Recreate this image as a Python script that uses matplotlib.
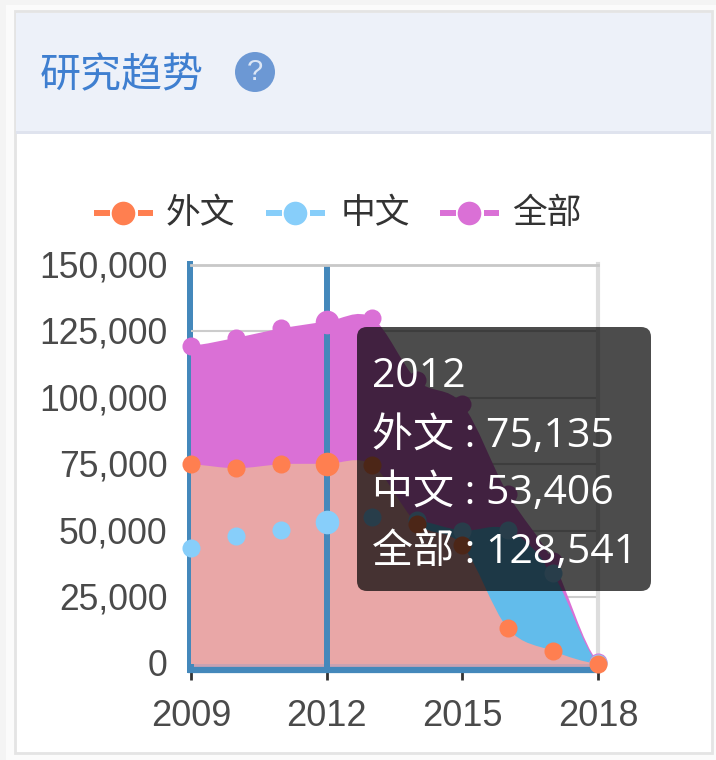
import matplotlib
matplotlib.use('Agg')
import matplotlib.pyplot as plt
from matplotlib.patches import FancyBboxPatch, PathPatch, Rectangle, Circle
from matplotlib.path import Path
from matplotlib.transforms import ScaledTranslation

plt.rcParams['font.family'] = ['Liberation Sans', 'Noto Sans CJK SC', 'DejaVu Sans']

years = [2009, 2010, 2011, 2012, 2013, 2014, 2015, 2016, 2017, 2018]
foreign = [75000, 73500, 75000, 75135, 74800, 52700, 44500, 13500, 4900, 0]
chinese = [43500, 48000, 50500, 53406, 55300, 54000, 50100, 50500, 34000, 300]
total = [119500, 122500, 126000, 128541, 130000, 106500, 97500, 64000, 38500, 800]
names = ['外文', '中文', '全部']
colors = ['#ff7f50', '#87cefa', '#da70d6']
y_ticks = [0, 25000, 50000, 75000, 100000, 125000, 150000]
x_ticks = [2009, 2012, 2015, 2018]
hover_year = 2012
W, H = 716, 760


def smooth_area(xs, ys):
    # кривая Безье через точки, снизу замыкаем на ноль
    verts = [(xs[0], 0), (xs[0], ys[0])]
    codes = [Path.MOVETO, Path.LINETO]
    n = len(xs)
    for i in range(n - 1):
        prev_y = ys[max(i - 1, 0)]
        next_y = ys[min(i + 2, n - 1)]
        dx = (xs[i + 1] - xs[i]) / 3
        c1 = ys[i] + (ys[i + 1] - prev_y) / 6
        c2 = ys[i + 1] - (next_y - ys[i]) / 6
        verts += [(xs[i] + dx, c1), (xs[i + 1] - dx, c2), (xs[i + 1], ys[i + 1])]
        codes += [Path.CURVE4] * 3
    verts += [(xs[-1], 0), (xs[0], 0)]
    codes += [Path.LINETO, Path.LINETO]
    return Path(verts, codes)


fig = plt.figure(figsize=(W / 100, H / 100), dpi=100, facecolor='#ffffff')

# фон карточки в пикселях
bg = fig.add_axes([0, 0, 1, 1], zorder=0)
bg.set_xlim(0, W)
bg.set_ylim(H, 0)
bg.axis('off')
bg.add_patch(Rectangle((0, 0), W, H, fc='#f4f4f4', ec='none'))
bg.add_patch(Rectangle((6, 5), W - 6, H - 5, fc='#fbfbfb', ec='none'))
bg.add_patch(Rectangle((15, 11), 697, 742, fc='#ffffff', ec='#e4e4e4', lw=2))
bg.add_patch(Rectangle((16, 13), 695, 118, fc='#edf1f9', ec='none'))
bg.add_patch(Rectangle((16, 131), 695, 3, fc='#dfe3ee', ec='none'))
bg.text(40, 76, '研究趋势', fontsize=29.5, color='#3f7fd0', va='center', ha='left',
        family=['Noto Sans CJK SC', 'DejaVu Sans'])
bg.add_patch(Circle((255, 72), 20, fc='#6c98d4', ec='none'))
bg.text(255, 72, '?', fontsize=21, color='#dce6f5', va='center', ha='center')
# левая ось идёт чуть выше графика и до нижней оси
bg.add_patch(Rectangle((187, 261), 6, 412, fc='#4488bb', ec='none'))
# полоска между нулём и нижней осью
bg.add_patch(Rectangle((193, 663), 405, 5, fc='#c9a2b2', ec='none'))
bg.add_patch(Rectangle((324, 660), 6, 10, fc='#4488bb', ec='none'))

# легенда
for cx, tx, name, c in zip([122.5, 295, 468.5], [166, 341, 512], names, colors):
    bg.plot([cx - 29, cx - 13], [213, 213], color=c, lw=4.3, solid_capstyle='butt')
    bg.plot([cx + 15, cx + 30], [213, 213], color=c, lw=4.3, solid_capstyle='butt')
    bg.plot([cx], [213], 'o', color=c, ms=17, mew=0)
    bg.text(tx, 213, name, fontsize=25, color='#333333', va='center', ha='left',
            family=['Noto Sans CJK SC', 'DejaVu Sans'])

# основной график
ax = fig.add_axes([191 / W, 1 - 664 / H, 407 / W, 399.5 / H], zorder=1)
ax.patch.set_alpha(0)
ax.set_xlim(2009, 2018)
ax.set_ylim(0, 150000)
ax.spines['top'].set_color('#c8c8c8')
ax.spines['top'].set_linewidth(2)
ax.spines['right'].set_color('#dddddd')
ax.spines['right'].set_linewidth(3)
ax.spines['left'].set_visible(False)
ax.spines['bottom'].set_color('#4488bb')
ax.spines['bottom'].set_linewidth(4.5)
ax.spines['bottom'].set_position(('outward', 4.3))
ax.set_yticks(y_ticks)
ax.set_yticklabels([f'{v:,}' for v in y_ticks], fontsize=25.6, color='#4a4a4a')
ax.set_xticks(x_ticks)
ax.set_xticklabels([str(v) for v in x_ticks], fontsize=26, color='#4a4a4a')
ax.tick_params(axis='y', length=0, pad=17)
ax.tick_params(axis='x', length=7, width=2, color='#333333', pad=14)
ax.grid(axis='y', color='#cccccc', lw=1.5, zorder=1)
ax.set_axisbelow(True)
up = ScaledTranslation(0, 1 / 100, fig.dpi_scale_trans)
for lab in ax.get_yticklabels():
    lab.set_transform(lab.get_transform() + up)

ax.axvline(hover_year, color='#4488bb', lw=4.3, zorder=2)

area_colors = ['#e9a7a7', '#62bceb', '#da70d6']
for vals, c, z in zip([total, chinese, foreign], [area_colors[2], area_colors[1], area_colors[0]], [3, 4, 5]):
    ax.add_patch(PathPatch(smooth_area(years, vals), fc=c, ec='none', zorder=z))

ax.plot([hover_year, hover_year], [0, total[3]], color='#4488bb', lw=4.3, zorder=5.5)
ax.plot([2009, 2009], [0, total[0]], color='#4488bb', lw=4.3, zorder=2.5, clip_on=False)

for vals, c, z in zip([total, chinese, foreign], [colors[2], colors[1], colors[0]], [6, 7, 8]):
    ax.plot(years, vals, 'o', color=c, ms=13, mew=0, clip_on=False, zorder=z)
    i = years.index(hover_year)
    ax.plot([hover_year], [vals[i]], 'o', color=c, ms=17, mew=0, clip_on=False, zorder=z)

# подсказка
top = fig.add_axes([0, 0, 1, 1], zorder=2)
top.set_xlim(0, W)
top.set_ylim(H, 0)
top.axis('off')
top.patch.set_alpha(0)
top.add_patch(FancyBboxPatch((365, 335), 278, 248, boxstyle='round,pad=8,rounding_size=10',
                             fc='#000000', ec='none', alpha=0.7))
tip = [str(hover_year),
       f'{names[0]} : {foreign[3]:,}',
       f'{names[1]} : {chinese[3]:,}',
       f'{names[2]} : {total[3]:,}']
for yy, line in zip([377, 437, 494, 553], tip):
    top.text(372, yy, line, fontsize=29.5, color='#ffffff', va='center', ha='left',
             family=['Open Sans', 'Noto Sans CJK SC', 'DejaVu Sans'])

fig.savefig('out.png', dpi=100)
